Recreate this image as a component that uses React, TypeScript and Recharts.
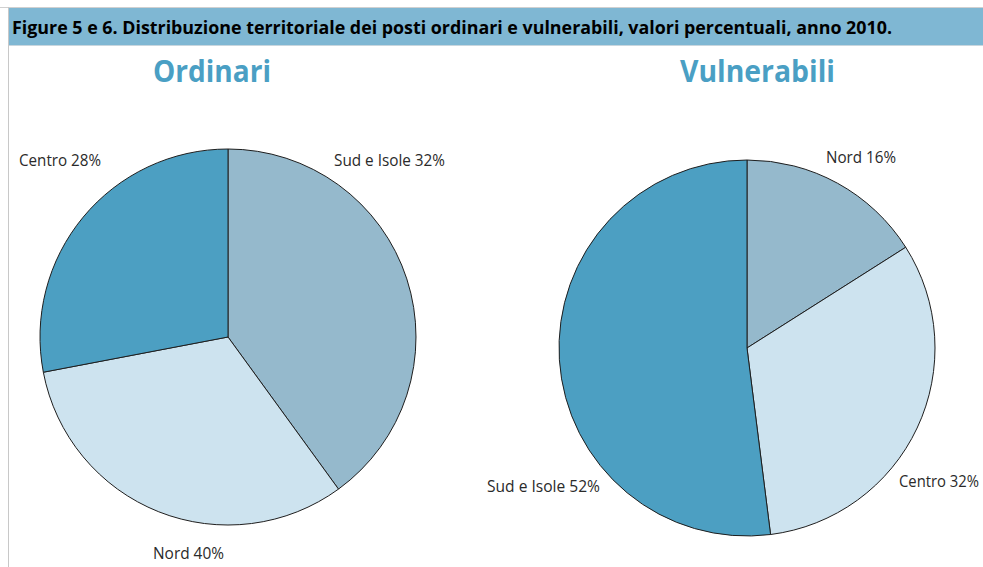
import React from "react";
import { PieChart, Pie, Cell } from "recharts";

// Data
const ordinariValues = [40, 32, 28];
const ordinariLabels = ["Sud e Isole 32%", "Nord 40%", "Centro 28%"];
const vulnerabiliValues = [16, 32, 52];
const vulnerabiliLabels = ["Nord 16%", "Centro 32%", "Sud e Isole 52%"];
const sliceColors = ["#95b9cc", "#cde3ef", "#4c9fc2"];

const pageTitle =
  "Figure 5 e 6. Distribuzione territoriale dei posti ordinari e vulnerabili, valori percentuali, anno 2010.";
const chartTitles = ["Ordinari", "Vulnerabili"];

const ordinariData = ordinariValues.map((v, i) => ({ name: ordinariLabels[i], value: v }));
const vulnerabiliData = vulnerabiliValues.map((v, i) => ({ name: vulnerabiliLabels[i], value: v }));

// Layout (positions of free-standing text)
const labelFont = "'Open Sans', 'DejaVu Sans', sans-serif";
const ordinariLabelPos = [
  { x: 334, y: 166, w: 111 },
  { x: 153, y: 559, w: 71 },
  { x: 19, y: 166, w: 82 },
];
const vulnerabiliLabelPos = [
  { x: 826, y: 163, w: 70 },
  { x: 899, y: 487, w: 80 },
  { x: 487, y: 492, w: 113 },
];

export default function App() {
  const W = 983;
  const H = 567;
  return (
    <div style={{ position: "absolute", left: 0, top: 0, width: W, height: H, background: "#fff", overflow: "hidden" }}>
      <div style={{ position: "absolute", left: 0, top: 0 }}>
        <PieChart width={W} height={H} margin={{ top: 0, right: 0, bottom: 0, left: 0 }}>
          <Pie
            data={ordinariData}
            dataKey="value"
            cx={228}
            cy={337}
            outerRadius={188}
            startAngle={90}
            endAngle={-270}
            stroke="#1e1e1e"
            strokeWidth={1}
            isAnimationActive={false}
            label={false}
            labelLine={false}
          >
            {ordinariData.map((d, i) => (
              <Cell key={i} fill={sliceColors[i]} />
            ))}
          </Pie>
          <Pie
            data={vulnerabiliData}
            dataKey="value"
            cx={747}
            cy={348}
            outerRadius={188}
            startAngle={90}
            endAngle={-270}
            stroke="#1e1e1e"
            strokeWidth={1}
            isAnimationActive={false}
            label={false}
            labelLine={false}
          >
            {vulnerabiliData.map((d, i) => (
              <Cell key={i} fill={sliceColors[i]} />
            ))}
          </Pie>
        </PieChart>
      </div>
      <svg width={W} height={H} style={{ position: "absolute", left: 0, top: 0, pointerEvents: "none" }}>
        <line x1={0} y1={7.5} x2={W} y2={7.5} stroke="#d0d0d0" strokeWidth={1} />
        <rect x={8} y={8} width={W - 8} height={37} fill="#7fb7d3" />
        <line x1={8} y1={45.5} x2={W} y2={45.5} stroke="#c8d6de" strokeWidth={1} />
        <line x1={8.5} y1={7} x2={8.5} y2={H} stroke="#c8c8c8" strokeWidth={1} />
        <text
          x={12}
          y={34}
          fontFamily={labelFont}
          fontWeight="bold"
          fontSize={18.5}
          fill="#000"
          textLength={880}
          lengthAdjust="spacingAndGlyphs"
        >
          {pageTitle}
        </text>
        <text
          x={153}
          y={82}
          fontFamily={labelFont}
          fontWeight="bold"
          fontSize={30}
          fill="#4a9fc4"
          textLength={118}
          lengthAdjust="spacingAndGlyphs"
        >
          {chartTitles[0]}
        </text>
        <text
          x={680}
          y={82}
          fontFamily={labelFont}
          fontWeight="bold"
          fontSize={30}
          fill="#4a9fc4"
          textLength={155}
          lengthAdjust="spacingAndGlyphs"
        >
          {chartTitles[1]}
        </text>
        {ordinariLabels.map((t, i) => (
          <text
            key={"o" + i}
            x={ordinariLabelPos[i].x}
            y={ordinariLabelPos[i].y}
            fontFamily={labelFont}
            fontSize={15.5}
            fill="#2a2a2a"
            textLength={ordinariLabelPos[i].w}
            lengthAdjust="spacingAndGlyphs"
          >
            {t}
          </text>
        ))}
        {vulnerabiliLabels.map((t, i) => (
          <text
            key={"v" + i}
            x={vulnerabiliLabelPos[i].x}
            y={vulnerabiliLabelPos[i].y}
            fontFamily={labelFont}
            fontSize={15.5}
            fill="#2a2a2a"
            textLength={vulnerabiliLabelPos[i].w}
            lengthAdjust="spacingAndGlyphs"
          >
            {t}
          </text>
        ))}
      </svg>
    </div>
  );
}
